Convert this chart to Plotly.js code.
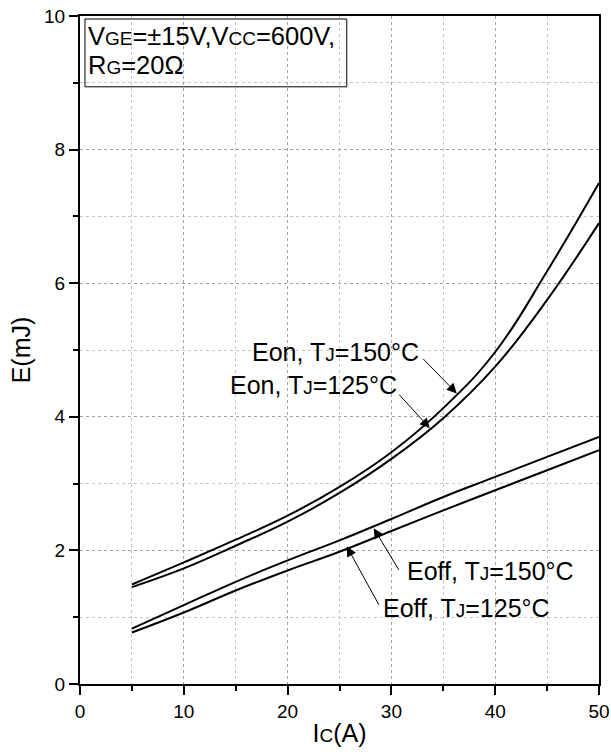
<!DOCTYPE html>
<html>
<head>
<meta charset="utf-8">
<script src="https://cdn.plot.ly/plotly-3.0.1.min.js"></script>
<style>html,body{margin:0;padding:0;background:#fff;}#chart{width:611px;height:752px;}</style>
</head>
<body>
<div id="chart"></div>
<script>
// Collector current (A)
const ic = [5, 10, 15, 20, 25, 30, 35, 40, 45, 50];
// Switching energies (mJ)
const eon150 = [1.49, 1.82, 2.16, 2.52, 2.95, 3.47, 4.13, 4.97, 6.18, 7.50];
const eon125 = [1.45, 1.73, 2.07, 2.43, 2.86, 3.37, 3.98, 4.75, 5.75, 6.90];
const eoff150 = [0.83, 1.18, 1.53, 1.85, 2.15, 2.47, 2.80, 3.10, 3.40, 3.70];
const eoff125 = [0.77, 1.07, 1.40, 1.70, 1.98, 2.29, 2.60, 2.90, 3.20, 3.50];
const xTicks = [0, 10, 20, 30, 40, 50];
const yTicks = [0, 2, 4, 6, 8, 10];

const FONT = 'Liberation Sans, Arial, sans-serif';
const small = (s, px) => '<span style="font-size:' + px + 'px">' + s + '</span>';

function curve(y, name) {
  return {x: ic, y: y, name: name, type: 'scatter', mode: 'lines',
    line: {color: '#000', width: 2, shape: 'spline', smoothing: 1.2},
    hoverinfo: 'skip', showlegend: false};
}

const traces = [
  curve(eon150, 'Eon, TJ=150°C'),
  curve(eon125, 'Eon, TJ=125°C'),
  curve(eoff150, 'Eoff, TJ=150°C'),
  curve(eoff125, 'Eoff, TJ=125°C')
];

function label(text, x, y) {
  return {text: text, x: x, y: y, xref: 'x', yref: 'y', showarrow: false,
    xanchor: 'center', yanchor: 'middle', font: {family: FONT, size: 25, color: '#000'}};
}
function arrow(x, y, ax, ay) {
  return {text: '', x: x, y: y, xref: 'x', yref: 'y', showarrow: true, ax: ax, ay: ay,
    arrowhead: 2, arrowsize: 2, arrowwidth: 1, arrowcolor: '#000'};
}

const annotations = [
  label('Eon, T' + small('J', 19) + '=150°C', 24.6, 4.97),
  label('Eon, T' + small('J', 19) + '=125°C', 22.5, 4.47),
  label('Eoff, T' + small('J', 19) + '=150°C', 39.5, 1.69),
  label('Eoff, T' + small('J', 19) + '=125°C', 37.2, 1.14),
  arrow(36.3, 4.35, -35, -36),
  arrow(33.7, 3.83, -32, -35),
  arrow(28.3, 2.33, 26, 43),
  arrow(25.7, 2.06, 33, 60),
  {text: 'V' + small('GE', 19) + '=±15V,V' + small('CC', 19) + '=600V,', x: 0.012, y: 0.9705,
    xref: 'paper', yref: 'paper', xanchor: 'left', yanchor: 'middle', showarrow: false,
    height: 24, valign: 'middle', font: {family: FONT, size: 25.5, color: '#000'}},
  {text: 'R' + small('G', 19) + '=20Ω', x: 0.012, y: 0.9265,
    xref: 'paper', yref: 'paper', xanchor: 'left', yanchor: 'middle', showarrow: false,
    height: 24, valign: 'middle', font: {family: FONT, size: 25.5, color: '#000'}}
];

const shapes = [
  {type: 'rect', xref: 'paper', yref: 'paper', x0: 0.0096, x1: 0.514, y0: 0.894, y1: 0.9955,
    line: {color: '#000', width: 1}}
];

const layout = {
  width: 611, height: 752,
  margin: {l: 80, r: 12, t: 16, b: 68},
  font: {family: FONT, color: '#000'},
  xaxis: {
    range: [0, 50], tickvals: xTicks,
    showgrid: true, gridcolor: '#a4a4a4', griddash: 'dot',
    minor: {dtick: 5, showgrid: true, gridcolor: '#c6c6c6', griddash: 'dot',
      ticks: 'outside', ticklen: 5, tickwidth: 2, tickcolor: '#000'},
    ticks: 'outside', ticklen: 9, tickwidth: 2, tickcolor: '#000',
    showline: true, linecolor: '#000', linewidth: 2, mirror: true,
    tickfont: {family: FONT, size: 19, color: '#000'},
    title: {text: 'I' + small('C', 19) + '(A)', font: {family: FONT, size: 25, color: '#000'}, standoff: 4}
  },
  yaxis: {
    range: [0, 10], tickvals: yTicks,
    showgrid: true, gridcolor: '#a4a4a4', griddash: 'dot',
    minor: {dtick: 1, showgrid: true, gridcolor: '#c6c6c6', griddash: 'dot',
      ticks: 'outside', ticklen: 5, tickwidth: 2, tickcolor: '#000'},
    ticks: 'outside', ticklen: 9, tickwidth: 2, tickcolor: '#000',
    showline: true, linecolor: '#000', linewidth: 2, mirror: true,
    tickfont: {family: FONT, size: 19, color: '#000'},
    title: {text: 'E(mJ)', font: {family: FONT, size: 25, color: '#000'}, standoff: 6}
  },
  annotations: annotations,
  shapes: shapes
};

Plotly.newPlot('chart', traces, layout, {displayModeBar: false, staticPlot: true});
</script>
</body>
</html>
